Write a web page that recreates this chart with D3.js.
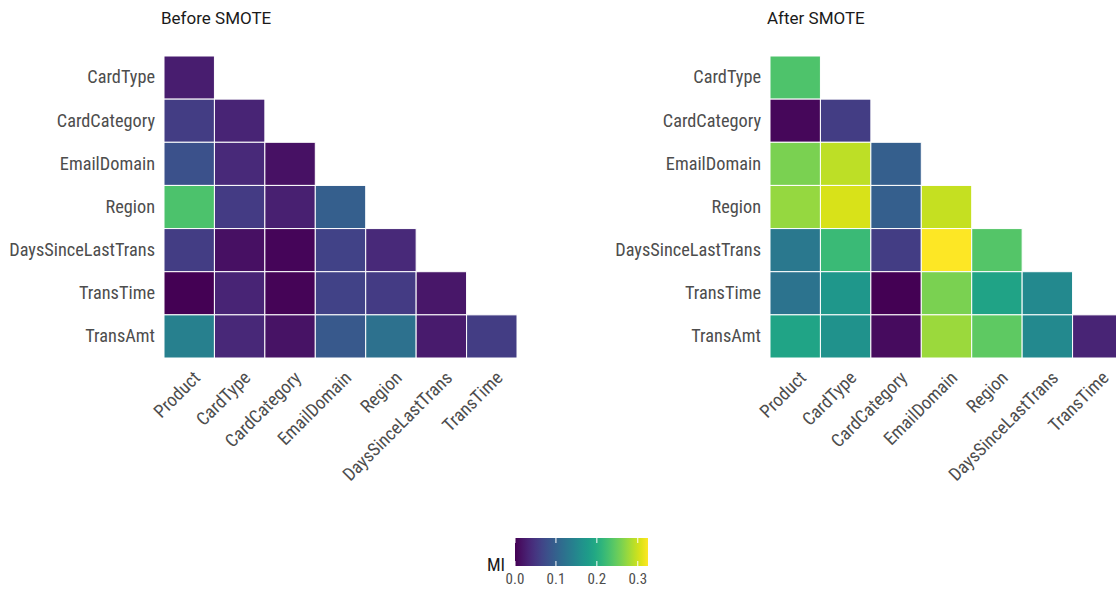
<!DOCTYPE html>
<html>
<head>
<meta charset="utf-8">
<script src="https://cdn.jsdelivr.net/npm/d3@7"></script>
<style>
  body { margin: 0; background: #fff; }
  svg { display: block; font-family: Roboto, "Noto Sans", sans-serif; }
</style>
</head>
<body>
<svg id="chart" width="1116" height="590"></svg>
<script>
// Variables on each axis of the lower-triangle MI heatmaps
const colVars = ["Product", "CardType", "CardCategory", "EmailDomain", "Region", "DaysSinceLastTrans", "TransTime"];
const rowVars = ["CardType", "CardCategory", "EmailDomain", "Region", "DaysSinceLastTrans", "TransTime", "TransAmt"];

// Mutual information, row by row (each row lists its columns from Product onward)
const miBefore = [
  [0.026],
  [0.058, 0.032],
  [0.080, 0.038, 0.015],
  [0.233, 0.057, 0.028, 0.097],
  [0.058, 0.013, 0.004, 0.064, 0.038],
  [0.001, 0.032, 0.003, 0.064, 0.056, 0.020],
  [0.140, 0.036, 0.016, 0.090, 0.120, 0.023, 0.058]
];
const miAfter = [
  [0.234],
  [0.006, 0.058],
  [0.260, 0.292, 0.097],
  [0.273, 0.305, 0.097, 0.296],
  [0.130, 0.220, 0.058, 0.325, 0.238],
  [0.124, 0.172, 0.001, 0.260, 0.188, 0.153],
  [0.190, 0.166, 0.010, 0.276, 0.244, 0.153, 0.033]
];
const panelTitles = ["Before SMOTE", "After SMOTE"];
const legendTicks = [0.0, 0.1, 0.2, 0.3];
const miRange = [0, 0.325];

const svg = d3.select("#chart");
const color = d3.scaleSequential(d3.interpolateViridis).domain(miRange);
const labelFont = 18.3;

function toCells(matrix) {
  const cells = [];
  matrix.forEach((row, i) => row.forEach((v, j) => cells.push({ r: rowVars[i], c: colVars[j], v })));
  return cells;
}

function drawPanel(left, title, matrix) {
  const top = 56, width = 353, height = 302;
  const x = d3.scaleBand().domain(colVars).range([left, left + width]);
  const y = d3.scaleBand().domain(rowVars).range([top, top + height]);
  const g = svg.append("g");

  g.append("text")
    .attr("x", left - 3).attr("y", 24)
    .attr("font-size", 17).attr("fill", "#1a1a1a")
    .text(title);

  g.selectAll("rect.cell").data(toCells(matrix)).join("rect")
    .attr("class", "cell")
    .attr("x", d => x(d.c)).attr("y", d => y(d.r))
    .attr("width", x.bandwidth()).attr("height", y.bandwidth())
    .attr("fill", d => color(d.v))
    .attr("stroke", "#fff").attr("stroke-width", 1);

  // row labels
  const ay = d3.axisLeft(y).tickSize(0).tickPadding(9);
  const gy = g.append("g").attr("transform", `translate(${left},0)`).call(ay);
  gy.select(".domain").remove();
  gy.selectAll("text").attr("font-size", labelFont).attr("fill", "#4d4d4d")
    .attr("font-family", "Roboto, sans-serif").attr("font-stretch", "condensed");

  // column labels, rotated 45°
  const ax = d3.axisBottom(x).tickSize(0).tickPadding(0);
  const gx = g.append("g").attr("transform", `translate(0,${top + height})`).call(ax);
  gx.select(".domain").remove();
  gx.selectAll("text")
    .attr("font-size", labelFont).attr("fill", "#4d4d4d")
    .attr("font-family", "Roboto, sans-serif").attr("font-stretch", "condensed")
    .attr("text-anchor", "end")
    .attr("dy", null).attr("y", 0)
    .attr("transform", "translate(12,21) rotate(-45)");
}

drawPanel(164, panelTitles[0], miBefore);
drawPanel(770, panelTitles[1], miAfter);

// colour bar legend
const lx = 515, ly = 538, lw = 133, lh = 28;
const lscale = d3.scaleLinear().domain(miRange).range([lx, lx + lw]);
const grad = svg.append("defs").append("linearGradient").attr("id", "mi-grad");
d3.range(0, 1.0001, 0.05).forEach(t => {
  grad.append("stop").attr("offset", t).attr("stop-color", d3.interpolateViridis(t));
});
svg.append("rect").attr("x", lx).attr("y", ly).attr("width", lw).attr("height", lh)
  .attr("fill", "url(#mi-grad)");
const lg = svg.append("g");
legendTicks.forEach(t => {
  const px = lscale(t);
  lg.append("line").attr("x1", px).attr("x2", px).attr("y1", ly).attr("y2", ly + 5)
    .attr("stroke", "#fff").attr("stroke-width", 1);
  lg.append("line").attr("x1", px).attr("x2", px).attr("y1", ly + lh - 5).attr("y2", ly + lh)
    .attr("stroke", "#fff").attr("stroke-width", 1);
  lg.append("text").attr("x", px).attr("y", ly + lh + 18)
    .attr("text-anchor", "middle").attr("font-size", 15).attr("fill", "#4d4d4d")
    .attr("font-stretch", "condensed")
    .text(t.toFixed(1));
});
svg.append("text").attr("x", 487).attr("y", ly + lh + 5)
  .attr("font-size", 18).attr("fill", "#1a1a1a").attr("font-stretch", "condensed").text("MI");
</script>
</body>
</html>
